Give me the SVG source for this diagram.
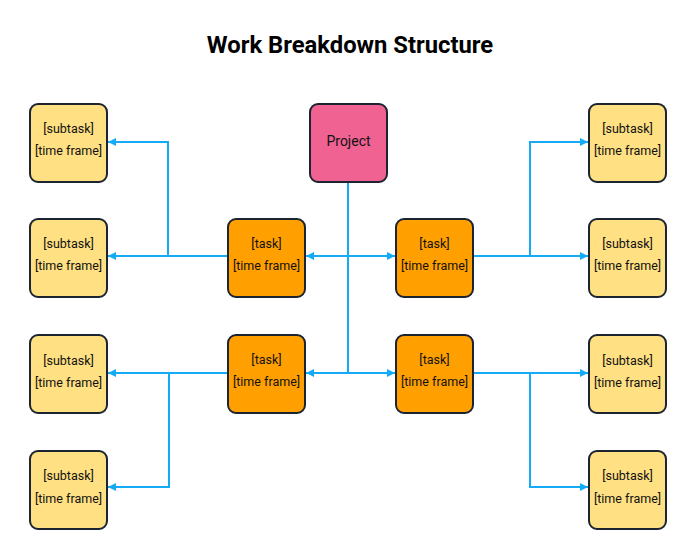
<svg xmlns="http://www.w3.org/2000/svg" width="700" height="544" viewBox="0 0 700 544">
<style>
.box{stroke:#1b2430;stroke-width:2}
.proj{fill:#F06292}
.task{fill:#FFA000}
.sub{fill:#FFE083}
.t{font-family:Roboto,"Liberation Sans",sans-serif;font-size:12.5px;fill:#111;text-anchor:middle}
.title{font-family:Roboto,"Liberation Sans",sans-serif;font-size:23.8px;font-weight:bold;fill:#000;text-anchor:middle}
.c{fill:none;stroke:#14AAF5;stroke-width:2}
</style>
<defs>
<marker id="a" viewBox="0 0 10 10" refX="10" refY="5" markerWidth="4" markerHeight="4" orient="auto" markerUnits="strokeWidth">
<path d="M0,0 L10,5 L0,10 z" fill="#14AAF5"/>
</marker>
</defs>
<rect width="700" height="544" fill="#fff"/>
<text class="title" x="350" y="53">Work Breakdown Structure</text>
<g id="connectors">
<path class="c" d="M348,182 V373"/>
<path class="c" d="M348,256 H306" marker-end="url(#a)"/>
<path class="c" d="M348,256 H395" marker-end="url(#a)"/>
<path class="c" d="M348,373 H306" marker-end="url(#a)"/>
<path class="c" d="M348,373 H395" marker-end="url(#a)"/>
<path class="c" d="M228,256 H108" marker-end="url(#a)"/>
<path class="c" d="M168,256 V142 H108" marker-end="url(#a)"/>
<path class="c" d="M228,373 H108" marker-end="url(#a)"/>
<path class="c" d="M169,373 V487 H108" marker-end="url(#a)"/>
<path class="c" d="M473,256 H588" marker-end="url(#a)"/>
<path class="c" d="M530,256 V142 H588" marker-end="url(#a)"/>
<path class="c" d="M473,373 H588" marker-end="url(#a)"/>
<path class="c" d="M530,373 V487 H588" marker-end="url(#a)"/>
</g>
<g id="project">
<rect class="box proj" x="310" y="104" width="77" height="78" rx="8"/>
<text class="t" x="348.5" y="146" style="font-size:14px">Project</text>
</g>
<g id="task1">
<rect class="box task" x="228" y="219" width="77" height="78" rx="8"/>
<text class="t" x="266.5" y="248">[task]</text>
<text class="t" x="266.5" y="270">[time frame]</text>
</g>
<g id="task2">
<rect class="box task" x="396" y="219" width="77" height="78" rx="8"/>
<text class="t" x="434.5" y="248">[task]</text>
<text class="t" x="434.5" y="270">[time frame]</text>
</g>
<g id="task3">
<rect class="box task" x="228" y="335" width="77" height="78" rx="8"/>
<text class="t" x="266.5" y="364">[task]</text>
<text class="t" x="266.5" y="386">[time frame]</text>
</g>
<g id="task4">
<rect class="box task" x="396" y="335" width="77" height="78" rx="8"/>
<text class="t" x="434.5" y="364">[task]</text>
<text class="t" x="434.5" y="386">[time frame]</text>
</g>
<g id="sub1">
<rect class="box sub" x="30" y="104" width="77" height="78" rx="8"/>
<text class="t" x="68.5" y="133">[subtask]</text>
<text class="t" x="68.5" y="155">[time frame]</text>
</g>
<g id="sub2">
<rect class="box sub" x="30" y="219" width="77" height="78" rx="8"/>
<text class="t" x="68.5" y="248">[subtask]</text>
<text class="t" x="68.5" y="270">[time frame]</text>
</g>
<g id="sub3">
<rect class="box sub" x="30" y="335" width="77" height="78" rx="8"/>
<text class="t" x="68.5" y="365">[subtask]</text>
<text class="t" x="68.5" y="387">[time frame]</text>
</g>
<g id="sub4">
<rect class="box sub" x="30" y="451" width="77" height="78" rx="8"/>
<text class="t" x="68.5" y="480">[subtask]</text>
<text class="t" x="68.5" y="503">[time frame]</text>
</g>
<g id="sub5">
<rect class="box sub" x="589" y="104" width="77" height="78" rx="8"/>
<text class="t" x="627.5" y="133">[subtask]</text>
<text class="t" x="627.5" y="155">[time frame]</text>
</g>
<g id="sub6">
<rect class="box sub" x="589" y="219" width="77" height="78" rx="8"/>
<text class="t" x="627.5" y="248">[subtask]</text>
<text class="t" x="627.5" y="270">[time frame]</text>
</g>
<g id="sub7">
<rect class="box sub" x="589" y="335" width="77" height="78" rx="8"/>
<text class="t" x="627.5" y="365">[subtask]</text>
<text class="t" x="627.5" y="387">[time frame]</text>
</g>
<g id="sub8">
<rect class="box sub" x="589" y="451" width="77" height="78" rx="8"/>
<text class="t" x="627.5" y="480">[subtask]</text>
<text class="t" x="627.5" y="503">[time frame]</text>
</g>
</svg>
